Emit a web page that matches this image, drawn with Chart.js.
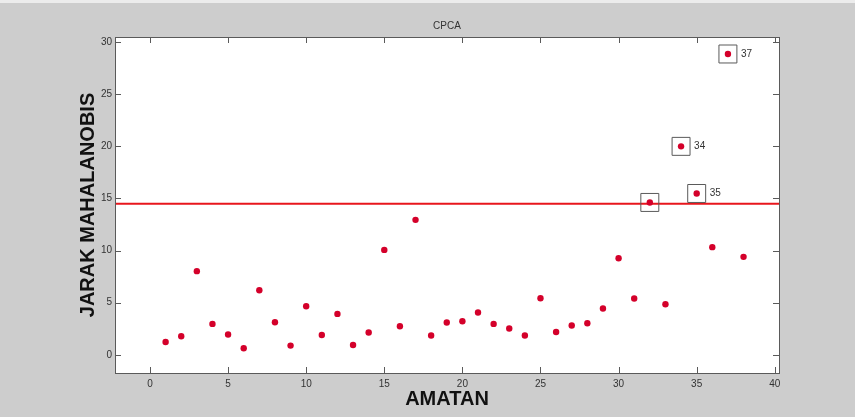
<!DOCTYPE html>
<html>
<head>
<meta charset="utf-8">
<script src="https://cdn.jsdelivr.net/npm/chart.js@4/dist/chart.umd.min.js"></script>
<style>
  html, body { margin: 0; padding: 0; background: #cdcdcd; }
  #wrap { position: relative; width: 855px; height: 417px; background: #cdcdcd; }
  #topstrip { position: absolute; left: 0; top: 0; width: 855px; height: 3px; background: #ececec; }
  canvas { position: absolute; left: 0; top: 0; }
</style>
</head>
<body>
<div id="wrap">
<div id="topstrip"></div>
<canvas id="c" width="855" height="417"></canvas>
</div>
<script>
// ---- data ----
const observations = [1,2,3,4,5,6,7,8,9,10,11,12,13,14,15,16,17,18,19,20,21,22,23,24,25,26,27,28,29,30,31,32,33,34,35,36,37,38];
const distances = [1.23,1.78,8.02,2.96,1.94,0.62,6.19,3.12,0.88,4.66,1.90,3.92,0.94,2.13,10.06,2.74,12.94,1.84,3.09,3.22,4.05,2.96,2.52,1.84,5.42,2.19,2.80,3.02,4.44,9.26,5.40,14.61,4.85,19.99,15.47,10.32,28.85,9.39];
const threshold = 14.48;
const outliers = [32, 34, 35, 37];
const labelledOutliers = [34, 35, 37];
const xTicks = [0,5,10,15,20,25,30,35,40];
const yTicks = [0,5,10,15,20,25,30];
const xMin = -2.24, xMax = 40.27;
const yMin = -1.75, yMax = 30.48;

const pts = observations.map((o, i) => ({x: o, y: distances[i]}));
const boxPts = outliers.map(o => ({x: o, y: distances[observations.indexOf(o)]}));

const TEXT = '#333333';
const FONT = '"Liberation Sans", Arial, sans-serif';

const decor = {
  id: 'decor',
  beforeDraw(chart) {
    const {ctx, chartArea: a} = chart;
    ctx.save();
    ctx.fillStyle = '#ffffff';
    ctx.fillRect(a.left, a.top, a.right - a.left, a.bottom - a.top);
    ctx.restore();
  },
  afterDraw(chart) {
    const {ctx, chartArea: a, scales: {x, y}} = chart;
    ctx.save();
    // box
    ctx.strokeStyle = '#5a5a5a';
    ctx.lineWidth = 1;
    ctx.strokeRect(Math.round(a.left) + 0.5, Math.round(a.top) + 0.5, Math.round(a.right - a.left), Math.round(a.bottom - a.top));
    // inner ticks
    const tl = 6;
    ctx.beginPath();
    xTicks.forEach(v => {
      const px = Math.round(x.getPixelForValue(v)) + 0.5;
      ctx.moveTo(px, a.bottom); ctx.lineTo(px, a.bottom - tl);
      ctx.moveTo(px, a.top); ctx.lineTo(px, a.top + tl);
    });
    yTicks.forEach(v => {
      const py = Math.round(y.getPixelForValue(v)) + 0.5;
      ctx.moveTo(a.left, py); ctx.lineTo(a.left + tl, py);
      ctx.moveTo(a.right, py); ctx.lineTo(a.right - tl, py);
    });
    ctx.stroke();
    // outlier labels
    ctx.fillStyle = TEXT;
    ctx.font = '10px ' + FONT;
    ctx.textAlign = 'left';
    ctx.textBaseline = 'middle';
    labelledOutliers.forEach(o => {
      const v = distances[observations.indexOf(o)];
      ctx.fillText(String(o), x.getPixelForValue(o) + 13, y.getPixelForValue(v));
    });
    // title
    ctx.textAlign = 'center';
    ctx.font = '10px ' + FONT;
    ctx.fillText('CPCA', (a.left + a.right) / 2, 26);
    // axis titles
    ctx.fillStyle = '#111111';
    ctx.font = 'bold 20px ' + FONT;
    ctx.fillText('AMATAN', (a.left + a.right) / 2, 399);
    ctx.translate(88, (a.top + a.bottom) / 2);
    ctx.rotate(-Math.PI / 2);
    ctx.fillText('JARAK MAHALANOBIS', 0, 0);
    ctx.restore();
  }
};

new Chart(document.getElementById('c'), {
  type: 'scatter',
  data: {
    datasets: [
      {
        type: 'line',
        data: [{x: xMin, y: threshold}, {x: xMax, y: threshold}],
        borderColor: '#e8161c',
        borderWidth: 2,
        pointRadius: 0,
        fill: false,
        order: 3
      },
      {
        data: boxPts,
        pointStyle: 'rect',
        pointRadius: 12.7,
        backgroundColor: 'rgba(0,0,0,0)',
        borderColor: '#5a5a5a',
        borderWidth: 1,
        order: 2
      },
      {
        data: pts,
        pointRadius: 3.2,
        pointBorderWidth: 0,
        backgroundColor: '#d4002a',
        borderColor: '#d4002a',
        order: 1
      }
    ]
  },
  options: {
    responsive: false,
    animation: false,
    layout: { padding: { left: 0, top: 37, right: 76, bottom: 0 } },
    plugins: { legend: { display: false }, tooltip: { enabled: false }, title: { display: false } },
    scales: {
      x: {
        type: 'linear',
        min: xMin, max: xMax,
        grid: { display: false, drawTicks: false },
        border: { display: false },
        afterFit(s) { s.height = 44; },
        afterBuildTicks(s) { s.ticks = xTicks.map(v => ({value: v})); },
        ticks: { color: TEXT, font: { size: 10, family: FONT }, padding: 5, includeBounds: false, maxRotation: 0 }
      },
      y: {
        type: 'linear',
        min: yMin, max: yMax,
        grid: { display: false, drawTicks: false },
        border: { display: false },
        afterFit(s) { s.width = 115; },
        afterBuildTicks(s) { s.ticks = yTicks.map(v => ({value: v})); },
        ticks: { color: TEXT, font: { size: 10, family: FONT }, padding: 3, includeBounds: false }
      }
    }
  },
  plugins: [decor]
});
</script>
</body>
</html>
